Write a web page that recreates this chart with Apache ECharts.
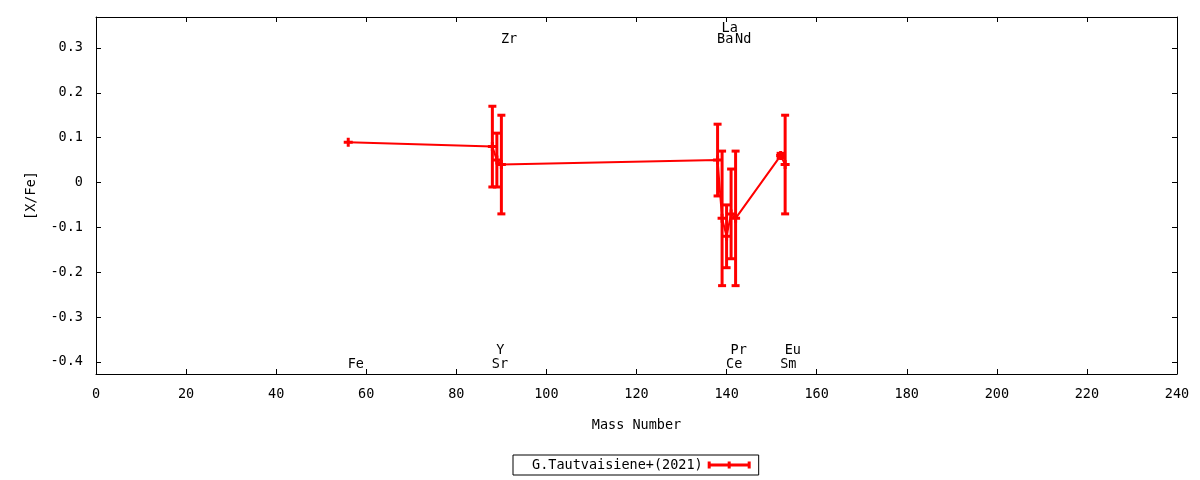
<!DOCTYPE html>
<html><head><meta charset="utf-8">
<script src="https://cdn.jsdelivr.net/npm/echarts@6/dist/echarts.min.js"></script>
<style>html,body{margin:0;padding:0;background:#fff}#c{width:1200px;height:480px}</style>
</head><body><div id="c"></div>
<script>
const elements = ['Fe','Sr','Y','Zr','Ba','La','Ce','Pr','Nd','Sm','Eu'];
const massNumbers = [56,88,89,90,138,139,140,141,142,152,153];
const xFe = [0.09,0.08,0.05,0.04,0.05,-0.08,-0.12,-0.07,-0.08,0.06,0.04];
const errXFe = [0,0.09,0.06,0.11,0.08,0.15,0.07,0.10,0.15,0.005,0.11];
const labelRowY = [-0.406,-0.406,-0.375,0.319,0.319,0.344,-0.406,-0.375,0.319,-0.406,-0.375];
const xTicks = [0,20,40,60,80,100,120,140,160,180,200,220,240];
const yTicks = [-0.4,-0.3,-0.2,-0.1,0,0.1,0.2,0.3];
const seriesName = 'G.Tautvaisiene+(2021)';
const xName = 'Mass Number';
const yName = '[X/Fe]';

const FONT = 'DejaVu Sans Mono';
const FS = 13.5;
const RED = '#ff0000';
const Y_MIN = -0.427, Y_MAX = 0.369;

const pointData = massNumbers.map((m, i) => [m, xFe[i]]);
const errData = massNumbers.map((m, i) => [m, xFe[i], errXFe[i]]);
const labelData = massNumbers.map((m, i) => [m, labelRowY[i], elements[i]]);

const plusPath = 'path://M3,0H6V3H9V6H6V9H3V6H0V3H3Z';
const legendIcon = 'path://M0,1.5H3V3.5H20V1.5H23V3.5H40V1.5H43V8.5H40V6.5H23V8.5H20V6.5H3V8.5H0Z';

const axisBase = {
  type: 'value',
  axisLine: { show: true, onZero: false, lineStyle: { color: '#000', width: 1 } },
  axisTick: { show: true, inside: true, length: 5, lineStyle: { color: '#000' } },
  splitLine: { show: false },
  axisLabel: { color: '#000', fontFamily: FONT, fontSize: FS }
};

const chart = echarts.init(document.getElementById('c'));
chart.setOption({
  animation: false,
  backgroundColor: '#fff',
  textStyle: { fontFamily: FONT, fontSize: FS, color: '#000' },
  grid: { left: 96, right: 23, top: 17, bottom: 106 },
  xAxis: [
    Object.assign({}, axisBase, {
      position: 'bottom', min: 0, max: 240, interval: 20,
      name: xName, nameLocation: 'middle', nameGap: 44,
      nameTextStyle: { fontFamily: FONT, fontSize: FS, color: '#000', verticalAlign: 'top' },
      axisLabel: Object.assign({}, axisBase.axisLabel, { margin: 13, customValues: xTicks }),
      axisTick: Object.assign({}, axisBase.axisTick, { customValues: xTicks })
    }),
    Object.assign({}, axisBase, {
      position: 'top', min: 0, max: 240, interval: 20,
      axisLabel: { show: false },
      axisTick: Object.assign({}, axisBase.axisTick, { customValues: xTicks })
    })
  ],
  yAxis: [
    Object.assign({}, axisBase, {
      position: 'left', min: Y_MIN, max: Y_MAX,
      name: yName, nameLocation: 'middle', nameGap: 58, nameRotate: 90,
      nameTextStyle: { fontFamily: FONT, fontSize: FS, color: '#000' },
      axisLabel: Object.assign({}, axisBase.axisLabel, { margin: 13, customValues: yTicks,
        formatter: v => (Math.abs(v) < 1e-9 ? '0' : String(+v.toFixed(1))) }),
      axisTick: Object.assign({}, axisBase.axisTick, { customValues: yTicks })
    }),
    Object.assign({}, axisBase, {
      position: 'right', min: Y_MIN, max: Y_MAX,
      axisLabel: { show: false },
      axisTick: Object.assign({}, axisBase.axisTick, { customValues: yTicks })
    })
  ],
  legend: {
    data: [{ name: seriesName, icon: legendIcon }],
    left: 513, top: 455,
    align: 'right',
    itemWidth: 43, itemHeight: 10, itemGap: 0,
    padding: [3, 8, 3, 19],
    borderColor: '#000', borderWidth: 1, borderRadius: 0,
    textStyle: { fontFamily: FONT, fontSize: FS, color: '#000' },
    itemStyle: { color: RED, borderWidth: 0 },
    selectedMode: false
  },
  series: [
    {
      name: seriesName,
      type: 'custom',
      xAxisIndex: 0, yAxisIndex: 0,
      data: errData,
      itemStyle: { color: RED },
      renderItem: function (params, api) {
        const x = api.value(0), y = api.value(1), e = api.value(2);
        if (!(e > 0)) return { type: 'group', children: [] };
        const top = api.coord([x, y + e]);
        const bot = api.coord([x, y - e]);
        const st = { stroke: RED, lineWidth: 3 };
        const hw = 4;
        return {
          type: 'group',
          children: [
            { type: 'line', shape: { x1: top[0], y1: top[1], x2: bot[0], y2: bot[1] }, style: st },
            { type: 'line', shape: { x1: top[0] - hw, y1: top[1], x2: top[0] + hw, y2: top[1] }, style: st },
            { type: 'line', shape: { x1: bot[0] - hw, y1: bot[1], x2: bot[0] + hw, y2: bot[1] }, style: st }
          ]
        };
      },
      z: 3
    },
    {
      name: seriesName,
      type: 'line',
      xAxisIndex: 0, yAxisIndex: 0,
      data: pointData,
      symbol: plusPath,
      symbolSize: 9,
      showAllSymbol: true,
      lineStyle: { color: RED, width: 2 },
      itemStyle: { color: RED },
      z: 4
    },
    {
      name: 'labels',
      type: 'scatter',
      xAxisIndex: 0, yAxisIndex: 0,
      data: labelData,
      symbolSize: 1,
      itemStyle: { color: 'rgba(0,0,0,0)' },
      label: {
        show: true, position: 'right', distance: -1,
        formatter: p => p.data[2],
        color: '#000', opacity: 1, fontFamily: FONT, fontSize: FS
      },
      emphasis: { disabled: true },
      labelLayout: { hideOverlap: false },
      z: 5
    }
  ]
});
</script>
</body></html>
